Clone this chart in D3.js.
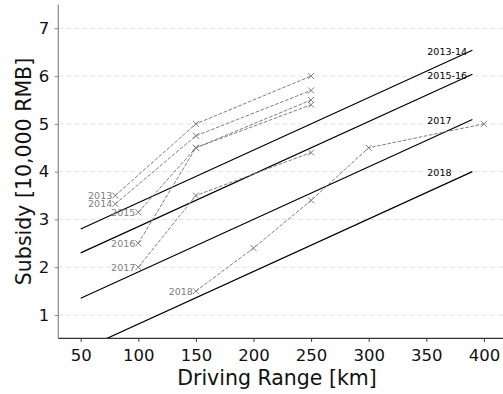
<!DOCTYPE html>
<html>
<head>
<meta charset="utf-8">
<script src="https://cdn.jsdelivr.net/npm/d3@7"></script>
<style>
  body { margin: 0; background: #fff; }
  text { font-family: "DejaVu Sans", sans-serif; }
</style>
</head>
<body>
<div id="chart"></div>
<script>
// subsidy schemes per year
var years = ["2013", "2014", "2015", "2016", "2017", "2018"];
var ranges = [
    [80, 150, 250],
    [80, 150, 250],
    [100, 150, 250],
    [100, 150, 250],
    [100, 150, 250],
    [150, 200, 250, 300, 400]
];
var subsidies = [
    [3.5, 5.0, 6.0],
    [3.325, 4.75, 5.7],
    [3.15, 4.5, 5.4],
    [2.5, 4.5, 5.5],
    [2.0, 3.5, 4.4],
    [1.5, 2.4, 3.4, 4.5, 5.0]
];

// reference lines
var lineNames = ["2013-14", "2015-16", "2017", "2018"];
var lineX = [50, 390];
var lineStart = [2.8, 2.3, 1.35, 0.26];
var lineEnd = [6.54, 6.04, 5.09, 4.0];
var lineLabelX = 350;

var xTicks = [50, 100, 150, 200, 250, 300, 350, 400];
var yTicks = [1, 2, 3, 4, 5, 6, 7];

var width = 503, height = 394;
var mLeft = 58.3, mRight = 503, mTop = 4.7, mBottom = 338.3;

var svg = d3.select("#chart").append("svg")
    .attr("width", width)
    .attr("height", height);

var x = d3.scaleLinear().domain([50, 400]).range([80.7, 483.9]);
var y = d3.scaleLinear().domain([1, 7]).range([315, 28.3]);

svg.append("defs").append("clipPath").attr("id", "clip")
    .append("rect")
    .attr("x", mLeft).attr("y", mTop)
    .attr("width", mRight - mLeft).attr("height", mBottom - mTop);

// grid
svg.append("g").selectAll("line")
    .data(yTicks)
    .enter().append("line")
    .attr("x1", mLeft).attr("x2", mRight)
    .attr("y1", function (d) { return y(d); })
    .attr("y2", function (d) { return y(d); })
    .attr("stroke", "#e3e3e3")
    .attr("stroke-width", 1)
    .attr("stroke-dasharray", "5,3");

var plot = svg.append("g").attr("clip-path", "url(#clip)");

// black reference lines
lineNames.forEach(function (name, i) {
    plot.append("line")
        .attr("x1", x(lineX[0])).attr("y1", y(lineStart[i]))
        .attr("x2", x(lineX[1])).attr("y2", y(lineEnd[i]))
        .attr("stroke", "#000")
        .attr("stroke-width", 1.2);
    svg.append("text")
        .attr("x", x(lineLabelX) + 1)
        .attr("y", y(lineEnd[i]) + 4.5)
        .attr("font-size", "9.5px")
        .attr("fill", "#000")
        .text(name);
});

// dashed subsidy series
var line = d3.line()
    .x(function (d) { return x(d[0]); })
    .y(function (d) { return y(d[1]); });

years.forEach(function (yr, i) {
    var pts = ranges[i].map(function (r, j) { return [r, subsidies[i][j]]; });
    plot.append("path")
        .attr("d", line(pts))
        .attr("fill", "none")
        .attr("stroke", "#808080")
        .attr("stroke-width", 1)
        .attr("stroke-dasharray", "3.7,1.6");
    plot.selectAll(null)
        .data(pts)
        .enter().append("path")
        .attr("d", function (d) {
            var cx = x(d[0]), cy = y(d[1]), s = 3;
            return "M" + (cx - s) + "," + (cy - s) + "L" + (cx + s) + "," + (cy + s) +
                "M" + (cx - s) + "," + (cy + s) + "L" + (cx + s) + "," + (cy - s);
        })
        .attr("stroke", "#808080")
        .attr("stroke-width", 1);
    svg.append("text")
        .attr("x", x(pts[0][0]) - 3)
        .attr("y", y(pts[0][1]) + 3.5)
        .attr("text-anchor", "end")
        .attr("font-size", "9.5px")
        .attr("fill", "#808080")
        .text(yr);
});

// axes
var xAxis = svg.append("g")
    .attr("transform", "translate(0," + mBottom + ")")
    .call(d3.axisBottom(x).tickValues(xTicks).tickFormat(d3.format("d")).tickSize(3.5).tickPadding(7.5));
xAxis.select(".domain").remove();
xAxis.append("line")
    .attr("x1", mLeft).attr("x2", mRight)
    .attr("stroke", "#333").attr("stroke-width", 1.2);
xAxis.selectAll(".tick line").attr("stroke", "#333");
xAxis.selectAll(".tick text")
    .attr("font-size", "16.5px")
    .attr("fill", "#111")
    .style("font-family", "DejaVu Sans, sans-serif");

var yAxis = svg.append("g")
    .attr("transform", "translate(" + mLeft + ",0)")
    .call(d3.axisLeft(y).tickValues(yTicks).tickFormat(d3.format("d")).tickSize(3.5).tickPadding(5.5));
yAxis.select(".domain").remove();
yAxis.append("line")
    .attr("y1", mTop).attr("y2", mBottom)
    .attr("stroke", "#888").attr("stroke-width", 1.2);
yAxis.selectAll(".tick line").attr("stroke", "#888");
yAxis.selectAll(".tick text")
    .attr("font-size", "16.5px")
    .attr("fill", "#111")
    .style("font-family", "DejaVu Sans, sans-serif");

// axis titles
svg.append("text")
    .attr("x", 277)
    .attr("y", 385)
    .attr("text-anchor", "middle")
    .attr("font-size", "20.5px")
    .attr("fill", "#111")
    .text("Driving Range [km]");

svg.append("text")
    .attr("transform", "translate(31," + ((mTop + mBottom) / 2) + ") rotate(-90)")
    .attr("text-anchor", "middle")
    .attr("font-size", "20.5px")
    .attr("fill", "#111")
    .text("Subsidy [10,000 RMB]");
</script>
</body>
</html>
